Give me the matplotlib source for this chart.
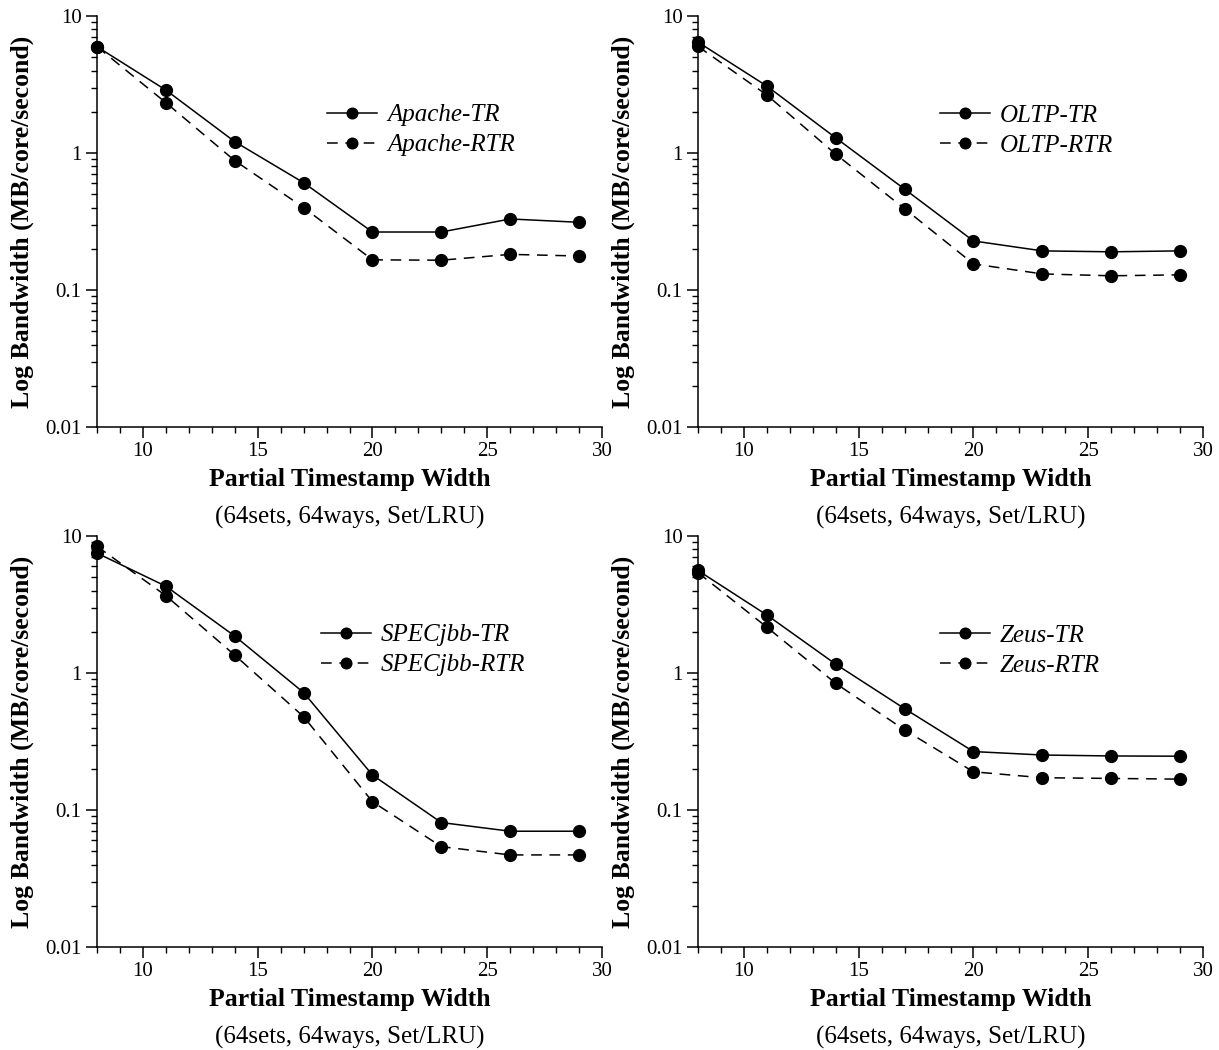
import matplotlib
matplotlib.use("Agg")
import matplotlib.pyplot as plt
from matplotlib.ticker import FixedLocator, MultipleLocator, LogLocator, NullFormatter, FixedFormatter

plt.rcParams['font.family'] = ['Liberation Serif', 'DejaVu Serif']

# Partial timestamp widths (bits)
widths = [8, 11, 14, 17, 20, 23, 26, 29]

# Bandwidth in MB/core/second for each workload
apache_tr = [5.97, 2.88, 1.21, 0.607, 0.265, 0.265, 0.33, 0.312]
apache_rtr = [5.97, 2.33, 0.88, 0.40, 0.166, 0.165, 0.182, 0.177]

oltp_tr = [6.45, 3.08, 1.29, 0.545, 0.228, 0.193, 0.19, 0.193]
oltp_rtr = [6.0, 2.65, 0.98, 0.392, 0.155, 0.131, 0.127, 0.129]

specjbb_tr = [7.5, 4.3, 1.86, 0.72, 0.18, 0.081, 0.070, 0.070]
specjbb_rtr = [8.4, 3.67, 1.35, 0.48, 0.115, 0.054, 0.047, 0.047]

zeus_tr = [5.6, 2.65, 1.16, 0.549, 0.267, 0.252, 0.248, 0.247]
zeus_rtr = [5.4, 2.16, 0.84, 0.384, 0.19, 0.172, 0.170, 0.168]

panels = [
    ("Apache", apache_tr, apache_rtr),
    ("OLTP", oltp_tr, oltp_rtr),
    ("SPECjbb", specjbb_tr, specjbb_rtr),
    ("Zeus", zeus_tr, zeus_rtr),
]

x_ticks = [10, 15, 20, 25, 30]
y_ticks = [0.01, 0.1, 1, 10]
y_tick_labels = ["0.01", "0.1", "1", "10"]

W, H = 1219, 1050
fig = plt.figure(figsize=(W / 100, H / 100), dpi=100)

# axes boxes in pixels: (left, top, right, bottom)
boxes = [
    (97, 16, 602, 427),
    (698, 16, 1203, 427),
    (97, 536, 602, 947),
    (698, 536, 1203, 947),
]
# legend anchor (pixel x of handle start, pixel y of legend top)
legend_anchor = [(327, 104), (940, 104), (321, 624), (940, 624)]

for (name, tr, rtr), (l, t, r, b), (lx, ly) in zip(panels, boxes, legend_anchor):
    ax = fig.add_axes([l / W, 1 - b / H, (r - l) / W, (b - t) / H])
    ax.set_yscale('log')
    ax.set_xlim(8, 30)
    ax.set_ylim(0.01, 10)
    ax.plot(widths, tr, '-', color='black', lw=1.1, marker='o', ms=8.5,
            label=f"{name}-TR", clip_on=False, zorder=3)
    ax.plot(widths, rtr, color='black', lw=1.1, ls=(0, (7, 5)), marker='o', ms=8.5,
            label=f"{name}-RTR", clip_on=False, zorder=3)

    for side in ('top', 'right'):
        ax.spines[side].set_visible(False)
    for side in ('left', 'bottom'):
        ax.spines[side].set_linewidth(1.1)

    ax.xaxis.set_major_locator(FixedLocator(x_ticks))
    ax.xaxis.set_minor_locator(MultipleLocator(1))
    ax.yaxis.set_major_locator(FixedLocator(y_ticks))
    ax.yaxis.set_major_formatter(FixedFormatter(y_tick_labels))
    ax.yaxis.set_minor_locator(LogLocator(base=10, subs=range(2, 10)))
    ax.yaxis.set_minor_formatter(NullFormatter())
    ax.tick_params(which='major', direction='out', length=8, width=1.1, labelsize=15, pad=3)
    ax.tick_params(which='minor', direction='out', length=4, width=1.0)

    ax.set_xlabel("Partial Timestamp Width", fontsize=18.5, fontweight='bold', labelpad=5)
    ax.set_ylabel("Log Bandwidth (MB/core/second)", fontsize=18.5, fontweight='bold', labelpad=8)
    ax.text(0.5, -0.22, "(64sets, 64ways, Set/LRU)", transform=ax.transAxes,
            ha='center', va='center', fontsize=18)

    leg = ax.legend(loc='upper left', bbox_to_anchor=((lx - l) / (r - l), 1 - (ly - t) / (b - t)),
                    frameon=False, prop={'style': 'italic', 'size': 18},
                    handlelength=2.0, handletextpad=0.4, borderpad=0, borderaxespad=0,
                    labelspacing=0.3, markerscale=0.9)

fig.savefig("out.png", dpi=100)
